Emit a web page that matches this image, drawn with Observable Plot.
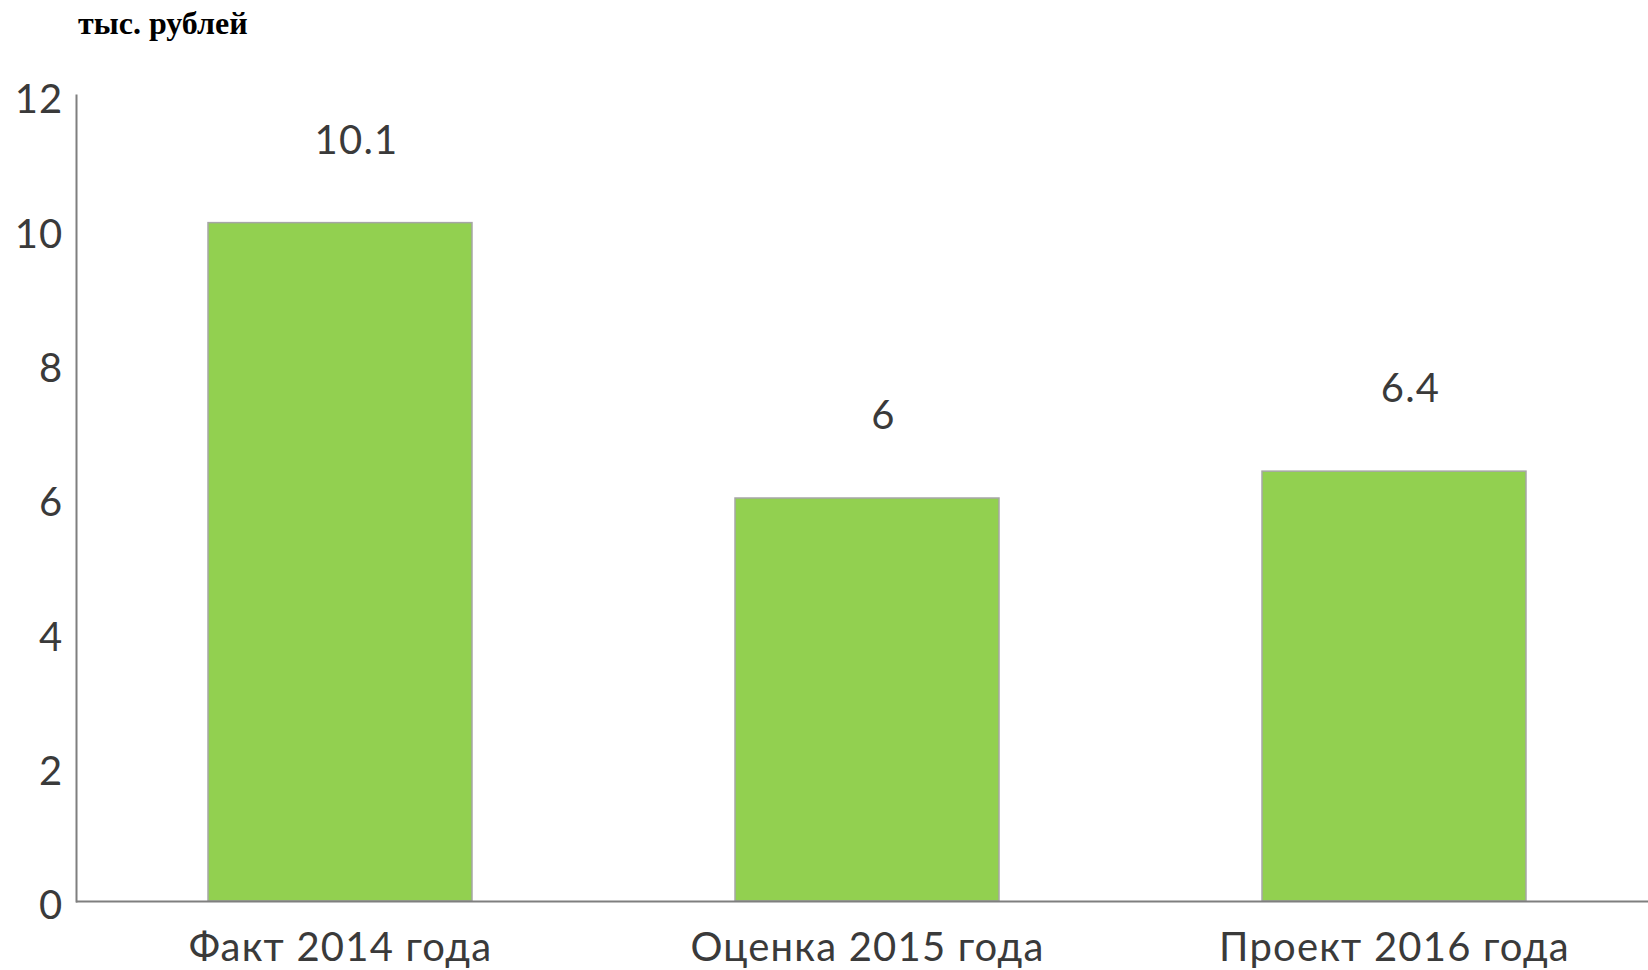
<!DOCTYPE html>
<html>
<head>
<meta charset="utf-8">
<script src="https://cdn.jsdelivr.net/npm/d3@7"></script>
<script src="https://cdn.jsdelivr.net/npm/@observablehq/plot@0.6"></script>
<style>
  html, body { margin: 0; padding: 0; background: #fff; }
  #title { height: 60px; box-sizing: border-box; padding: 7px 0 0 78px; font: bold 32px "Liberation Serif", "Times New Roman", serif; line-height: 1; color: #000; }
  svg { display: block; overflow: visible; }
  svg text { letter-spacing: 1.2px; }
</style>
</head>
<body>
<div id="title">тыс. рублей</div>
<div id="chart"></div>
<script>
const categories = ["Факт 2014 года", "Оценка 2015 года", "Проект 2016 года"];
const values = [10.1, 6, 6.4];
const yTicks = [0, 2, 4, 6, 8, 10, 12];

const data = categories.map((c, i) => ({category: c, value: values[i]}));

const font = "Lato, 'Open Sans', sans-serif";
const textColor = "#3a3a3a";

const chart = Plot.plot({
  width: 1648,
  height: 910,
  marginLeft: 76,
  marginRight: 0,
  marginTop: 35,
  marginBottom: 69,
  style: {fontFamily: font, fontSize: "40px", color: textColor, background: "#fff", overflow: "visible"},
  x: {domain: categories, range: [76.5, 1657.5], paddingInner: 0.5, paddingOuter: 0.25, label: null},
  y: {domain: [0, 12], range: [841, 35], label: null},
  marks: [
    Plot.barY(data, {x: "category", y: "value", fill: "#92d050", stroke: "#a6a6a6", strokeWidth: 1.5}),
    Plot.text(data, {x: "category", y: "value", text: d => String(d.value), dy: -82, dx: 16, fontSize: 40, fill: textColor}),
    Plot.frame({anchor: "left", stroke: "#7f7f7f", strokeWidth: 2}),
    Plot.ruleY([0], {stroke: "#7f7f7f", strokeWidth: 2}),
    Plot.axisY({ticks: yTicks, tickSize: 0, tickPadding: 13, fontSize: 40, fill: textColor, dy: 5}),
    Plot.axisX({tickSize: 0, tickPadding: 31, fontSize: 40, fill: textColor})
  ]
});
document.getElementById("chart").appendChild(chart);
</script>
</body>
</html>
